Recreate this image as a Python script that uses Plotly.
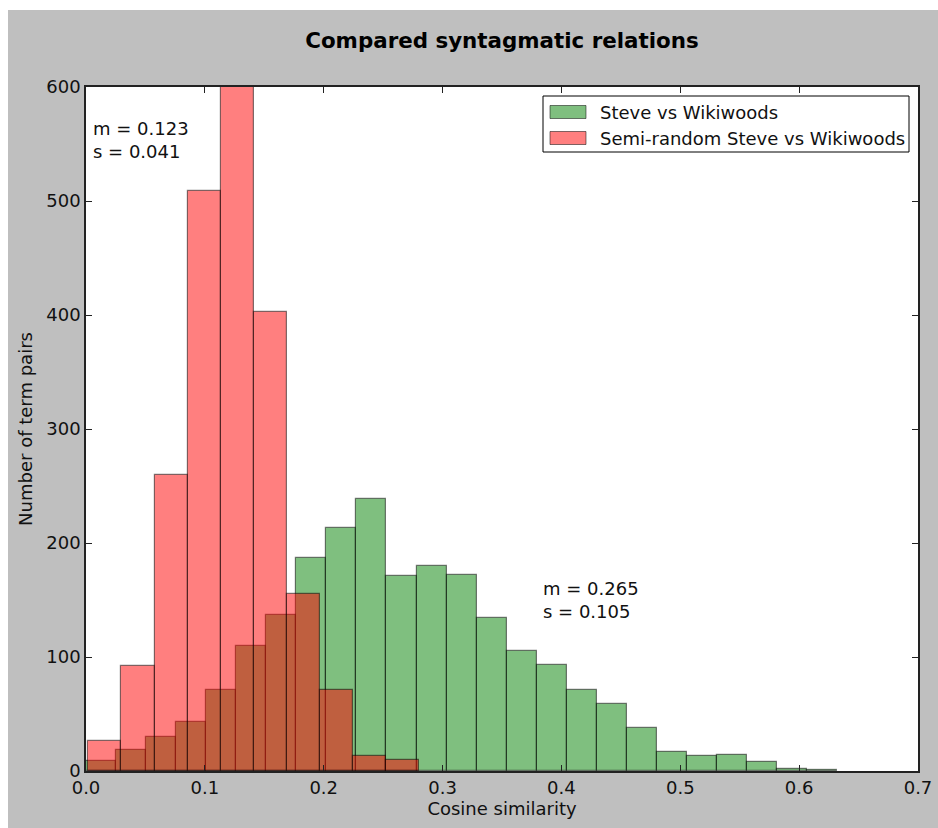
import plotly.graph_objects as go

# Histogram counts for the two distributions (equal-width bins over each range)
green_name = "Steve vs Wikiwoods"
green_range = (0.0, 0.632)
green_counts = [9, 18, 30, 43, 71, 110, 137, 187, 213, 239,
                171, 180, 172, 134, 105, 93, 71, 59, 38, 17,
                13, 14, 8, 2, 1]

red_name = "Semi-random Steve vs Wikiwoods"
red_range = (0.002, 0.2805)
red_counts = [26, 92, 260, 509, 600, 403, 155, 71, 13, 10]

green_stats = ("0.265", "0.105")
red_stats = ("0.123", "0.041")

x_ticks = [0.0, 0.1, 0.2, 0.3, 0.4, 0.5, 0.6, 0.7]
y_ticks = [0, 100, 200, 300, 400, 500, 600]

W, H = 938, 828
L, R, T, B = 86, 20, 87, 57
PW, PH = W - L - R, H - T - B

FONT = "DejaVu Sans"
FS = 18


def bins(rng, counts):
    n = len(counts)
    w = (rng[1] - rng[0]) / n
    centers = [rng[0] + w * (i + 0.5) for i in range(n)]
    return centers, w


def px_x(p):
    return (p - L) / PW


def px_y(p):
    return (H - B - p) / PH


fig = go.Figure()
for name, rng, counts, rgb in [
    (green_name, green_range, green_counts, "0,128,0"),
    (red_name, red_range, red_counts, "255,0,0"),
]:
    centers, w = bins(rng, counts)
    fig.add_trace(go.Bar(
        x=centers, y=counts, width=w, name=name,
        marker=dict(color=f"rgba({rgb},0.5)",
                    line=dict(color="rgba(0,0,0,0.5)", width=1.2)),
        showlegend=False,
    ))

axis_common = dict(
    showgrid=False, zeroline=False, showline=True, linecolor="#222",
    linewidth=1.5, mirror="ticks", ticks="inside", ticklen=6,
    tickcolor="#222", tickwidth=1,
    tickfont=dict(family=FONT, size=FS, color="#111"),
)

fig.update_layout(
    width=W, height=H,
    margin=dict(l=L, r=R, t=T, b=B, autoexpand=False),
    paper_bgcolor="#bfbfbf", plot_bgcolor="white",
    barmode="overlay", bargap=0,
    title=dict(text="<b>Compared syntagmatic relations</b>",
               font=dict(family=FONT, size=21.4, color="black"),
               x=0.5 * (L + (W - R)) / W, xanchor="center",
               y=1 - 41 / H, yanchor="middle"),
    xaxis=dict(range=[0, 0.7], tickvals=x_ticks,
               ticktext=[f"{v:.1f}" for v in x_ticks],
               title=dict(text="Cosine similarity",
                          font=dict(family=FONT, size=FS, color="#111"),
                          standoff=3),
               **axis_common),
    yaxis=dict(range=[0, 600], tickvals=y_ticks,
               title=dict(text="Number of term pairs",
                          font=dict(family=FONT, size=FS, color="#111"),
                          standoff=9),
               **axis_common),
    showlegend=False,
)

shapes = [
    # white strips along the top and left edges of the canvas
    dict(type="rect", xref="paper", yref="paper", layer="below",
         x0=px_x(-5), x1=px_x(W + 5), y0=px_y(10), y1=px_y(-5),
         fillcolor="white", line=dict(width=0)),
    dict(type="rect", xref="paper", yref="paper", layer="below",
         x0=px_x(-5), x1=px_x(8), y0=px_y(H + 5), y1=px_y(-5),
         fillcolor="white", line=dict(width=0)),
    # legend frame
    dict(type="rect", xref="paper", yref="paper",
         x0=px_x(543), x1=px_x(909), y0=px_y(152), y1=px_y(96),
         fillcolor="white", line=dict(color="black", width=1)),
]

annotations = []
legend_rows = [(green_name, "0,128,0", 112), (red_name, "255,0,0", 138)]
for name, rgb, cy in legend_rows:
    shapes.append(dict(
        type="rect", xref="paper", yref="paper",
        x0=px_x(550), x1=px_x(586), y0=px_y(cy + 6.5), y1=px_y(cy - 6.5),
        fillcolor=f"rgba({rgb},0.5)", line=dict(color="rgba(0,0,0,0.5)", width=1)))
    annotations.append(dict(
        xref="paper", yref="paper", x=px_x(598), y=px_y(cy),
        xanchor="left", yanchor="middle", showarrow=False, text=name,
        font=dict(family=FONT, size=FS, color="#111")))

for (m, s), xd, yd in [(red_stats, 0.0045, 575), (green_stats, 0.3825, 171)]:
    annotations.append(dict(
        x=xd, y=yd, xref="x", yref="y", xanchor="left", yanchor="top",
        showarrow=False, align="left", text=f"m = {m}<br>s = {s}",
        font=dict(family=FONT, size=FS, color="#111")))

fig.update_layout(shapes=shapes, annotations=annotations)
fig.write_html("out.html")
